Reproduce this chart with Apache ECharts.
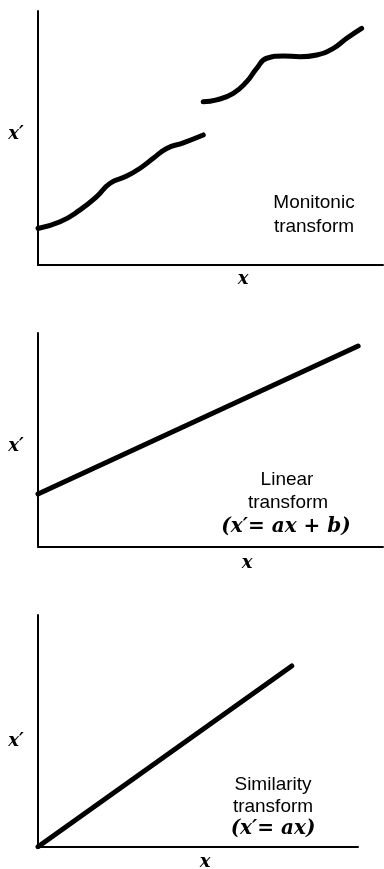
<!DOCTYPE html>
<html>
<head>
<meta charset="utf-8">
<script src="https://cdn.jsdelivr.net/npm/echarts@6/dist/echarts.min.js"></script>
<style>html,body{margin:0;padding:0;background:#fff;}#c{width:384px;height:869px;}</style>
</head>
<body>
<div id="c"></div>
<script>
// Panel 1: monotonic transform (two pieces)
var monoX1 = [0, 6.4, 12.2, 17.0, 20.9, 25.7, 29.6, 33.4, 37.3, 42.1, 47.9];
var monoY1 = [14.4, 17.0, 21.7, 26.9, 32.2, 35.0, 38.1, 42.0, 45.9, 48.1, 51.2];
var monoX2 = [47.9, 51.8, 56.6, 60.5, 63.4, 66.3, 71.1, 75.9, 80.8, 85.6, 89.5, 93.8];
var monoY2 = [64.3, 65.0, 67.6, 72.2, 77.4, 81.4, 82.3, 82.0, 82.7, 85.3, 89.3, 93.2];
// Panel 2: linear transform
var linX = [0, 92.8];
var linY = [24.7, 93.9];
// Panel 3: similarity transform
var simX = [0, 79.3];
var simY = [0, 78.0];
// Texts
var yName = "x\u2032";
var xName = "x";
var label1 = ["Monitonic", "transform"];
var label2 = ["Linear", "transform", "(x\u2032= ax + b)"];
var label3 = ["Similarity", "transform", "(x\u2032= ax)"];

function pairs(xs, ys) { return xs.map(function (v, i) { return [v, ys[i]]; }); }

var chart = echarts.init(document.getElementById('c'), null, {renderer: 'canvas'});
var axisLine = {show: true, lineStyle: {color: '#000', width: 2}};
function xAx(i) {
  return {type: 'value', gridIndex: i, min: 0, max: 100, axisLine: axisLine,
    axisTick: {show: false}, axisLabel: {show: false}, splitLine: {show: false}};
}
function yAx(i) {
  return {type: 'value', gridIndex: i, min: 0, max: 100, axisLine: axisLine,
    axisTick: {show: false}, axisLabel: {show: false}, splitLine: {show: false}};
}
var serifItalic = {fontFamily: 'DejaVu Serif', fontStyle: 'italic', fontWeight: 'bold', fontSize: 18, fill: '#000'};
var formula = {fontFamily: 'DejaVu Serif', fontStyle: 'italic', fontWeight: 'bold', fontSize: 20, fill: '#000'};
var sans = {fontFamily: 'Liberation Sans', fontSize: 19, fill: '#000'};
function txt(x, y, s, st) {
  return {type: 'text', x: x, y: y, style: Object.assign({text: s, textAlign: 'center', textVerticalAlign: 'middle'}, st)};
}
var lineStyle = {color: '#000', width: 5, cap: 'round', join: 'round'};

var option = {
  animation: false,
  backgroundColor: '#fff',
  grid: [
    {left: 38, right: 1, top: 11, height: 254},
    {left: 38, right: 1, top: 333, height: 213.7},
    {left: 38, width: 320, top: 615, height: 231.7}
  ],
  xAxis: [xAx(0), xAx(1), xAx(2)],
  yAxis: [yAx(0), yAx(1), yAx(2)],
  series: [
    {type: 'line', xAxisIndex: 0, yAxisIndex: 0, data: pairs(monoX1, monoY1), smooth: 0.5, showSymbol: false, lineStyle: lineStyle},
    {type: 'line', xAxisIndex: 0, yAxisIndex: 0, data: pairs(monoX2, monoY2), smooth: 0.5, showSymbol: false, lineStyle: lineStyle},
    {type: 'line', xAxisIndex: 1, yAxisIndex: 1, data: pairs(linX, linY), showSymbol: false, lineStyle: lineStyle},
    {type: 'line', xAxisIndex: 2, yAxisIndex: 2, data: pairs(simX, simY), showSymbol: false, lineStyle: lineStyle}
  ],
  graphic: [
    txt(16, 134, yName, serifItalic),
    txt(243, 279, xName, serifItalic),
    txt(314, 203, label1[0], sans),
    txt(314, 227, label1[1], sans),
    txt(16, 446, yName, serifItalic),
    txt(247, 563, xName, serifItalic),
    txt(287, 480, label2[0], sans),
    txt(288, 503, label2[1], sans),
    txt(286, 527, label2[2], formula),
    txt(16, 741, yName, serifItalic),
    txt(205, 862, xName, serifItalic),
    txt(273, 785, label3[0], sans),
    txt(273, 807, label3[1], sans),
    txt(273, 829, label3[2], formula)
  ]
};
chart.setOption(option);
</script>
</body>
</html>
